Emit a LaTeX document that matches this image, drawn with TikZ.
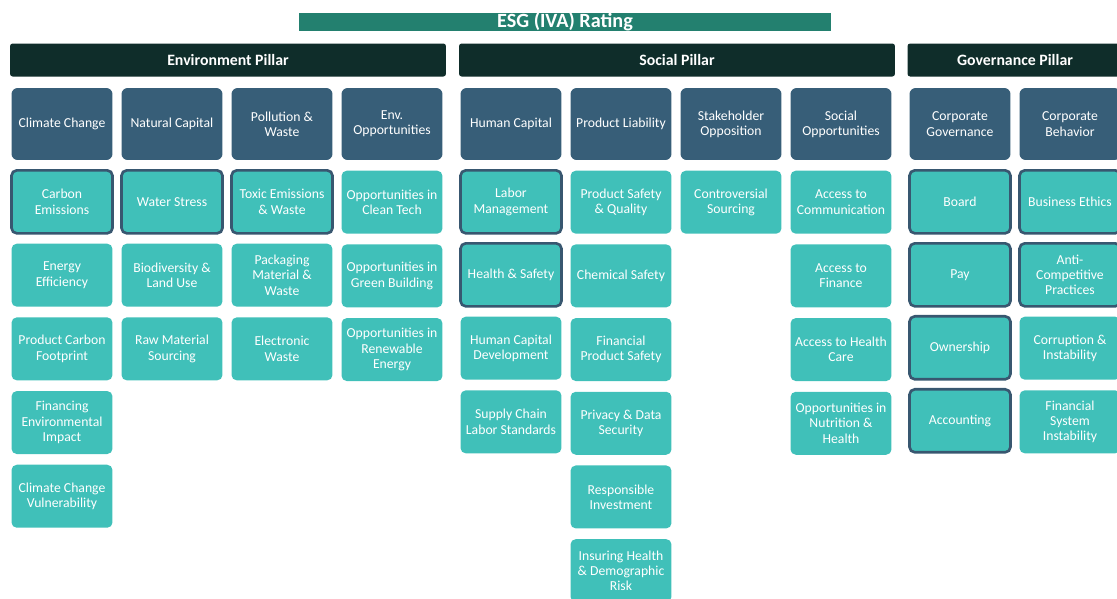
\documentclass[tikz,border=0pt]{standalone}
\usepackage{fontspec}
\setmainfont{Carlito}
\usetikzlibrary{positioning}
\definecolor{esgteal}{HTML}{23806F}
\definecolor{pillardk}{HTML}{0F2D2A}
\definecolor{themebl}{HTML}{375E78}
\definecolor{issueaq}{HTML}{40C0B9}
\definecolor{hlborder}{HTML}{385770}

\tikzset{
  boxtext/.style={text=white, align=center, inner sep=1pt, font=\fontsize{7.8}{8.7}\selectfont},
  ratingbar/.style={fill=esgteal, minimum width=10.64cm, minimum height=0.36cm, inner sep=0pt,
    text=white, font=\fontsize{11.5}{12}\selectfont\bfseries},
  pillarbar/.style={fill=pillardk, rounded corners=1.5pt, minimum width=8.72cm, minimum height=0.66cm,
    inner sep=0pt, text=white, font=\fontsize{9}{10}\selectfont\bfseries},
  themebox/.style={boxtext, fill=themebl, rounded corners=3.5pt, minimum width=2.02cm, minimum height=1.44cm},
  issuebox/.style={boxtext, fill=issueaq, rounded corners=3pt, minimum width=2.02cm, minimum height=1.26cm},
  keybox/.style={issuebox, draw=hlborder, line width=1.5pt, outer sep=0pt},
}

\begin{document}
\begin{tikzpicture}[x=0.02cm, y=-0.02cm, node distance=0.2cm]

% Canvas
\useasboundingbox (0,0) rectangle (1117,599);
\clip (0,0) rectangle (1117,599);

% Title
\node[ratingbar] (rating) at (565,22) {ESG (IVA) Rating};

% Pillars
\node[pillarbar] (envp) at (228,60) {Environment Pillar};
\node[pillarbar] (socp) at (677,60) {Social Pillar};
\node[pillarbar, minimum width=4.3cm] (govp) at (1015,60) {Governance Pillar};

% =========== ENVIRONMENT ===========
\node[themebox] (clim) at (62,124) {Climate Change};
\node[keybox, below=of clim] (carb) {Carbon\\Emissions};
\node[issuebox, below=of carb] (enef) {Energy\\Efficiency};
\node[issuebox, below=of enef] (pcf) {Product Carbon\\Footprint};
\node[issuebox, below=of pcf] (finenv) {Financing\\Environmental\\Impact};
\node[issuebox, below=of finenv] (climv) {Climate Change\\Vulnerability};

\node[themebox] (natc) at (172,124) {Natural Capital};
\node[keybox, below=of natc] (water) {Water Stress};
\node[issuebox, below=of water] (biod) {Biodiversity \&\\Land Use};
\node[issuebox, below=of biod] (rawm) {Raw Material\\Sourcing};

\node[themebox] (poll) at (282,124) {Pollution \&\\Waste};
\node[keybox, below=of poll] (toxic) {Toxic Emissions\\\& Waste};
\node[issuebox, below=of toxic] (pack) {Packaging\\Material \&\\Waste};
\node[issuebox, below=of pack] (elec) {Electronic\\Waste};

\node[themebox] (envopp) at (392,124) {Env.\\Opportunities};
\node[issuebox, below=of envopp] (clean) {Opportunities in\\Clean Tech};
\node[issuebox, below=of clean] (green) {Opportunities in\\Green Building};
\node[issuebox, below=of green] (renew) {Opportunities in\\Renewable\\Energy};

% =========== SOCIAL ===========
\node[themebox] (humc) at (511,124) {Human Capital};
\node[keybox, below=of humc] (labor) {Labor\\Management};
\node[keybox, below=of labor] (health) {Health \& Safety};
\node[issuebox, below=of health] (hcdev) {Human Capital\\Development};
\node[issuebox, below=of hcdev] (supply) {Supply Chain\\Labor Standards};

\node[themebox] (prodl) at (621,124) {Product Liability};
\node[issuebox, below=of prodl] (psafe) {Product Safety\\\& Quality};
\node[issuebox, below=of psafe] (chem) {Chemical Safety};
\node[issuebox, below=of chem] (finps) {Financial\\Product Safety};
\node[issuebox, below=of finps] (priv) {Privacy \& Data\\Security};
\node[issuebox, below=of priv] (respi) {Responsible\\Investment};
\node[issuebox, below=of respi] (insur) {Insuring Health\\\& Demographic\\Risk};

\node[themebox] (stake) at (731,124) {Stakeholder\\Opposition};
\node[issuebox, below=of stake] (contro) {Controversial\\Sourcing};

\node[themebox] (socopp) at (841,124) {Social\\Opportunities};
\node[issuebox, below=of socopp] (acomm) {Access to\\Communication};
\node[issuebox, below=of acomm] (afin) {Access to\\Finance};
\node[issuebox, below=of afin] (ahealth) {Access to Health\\Care};
\node[issuebox, below=of ahealth] (nutr) {Opportunities in\\Nutrition \&\\Health};

% =========== GOVERNANCE ===========
\node[themebox] (corpg) at (960,124) {Corporate\\Governance};
\node[keybox, below=of corpg] (board) {Board};
\node[keybox, below=of board] (pay) {Pay};
\node[keybox, below=of pay] (owner) {Ownership};
\node[keybox, below=of owner] (acct) {Accounting};

\node[themebox] (corpb) at (1070,124) {Corporate\\Behavior};
\node[keybox, below=of corpb] (ethic) {Business Ethics};
\node[keybox, below=of ethic] (anti) {Anti-\\Competitive\\Practices};
\node[issuebox, below=of anti] (corrup) {Corruption \&\\Instability};
\node[issuebox, below=of corrup] (finsys) {Financial\\System\\Instability};

\end{tikzpicture}
\end{document}
